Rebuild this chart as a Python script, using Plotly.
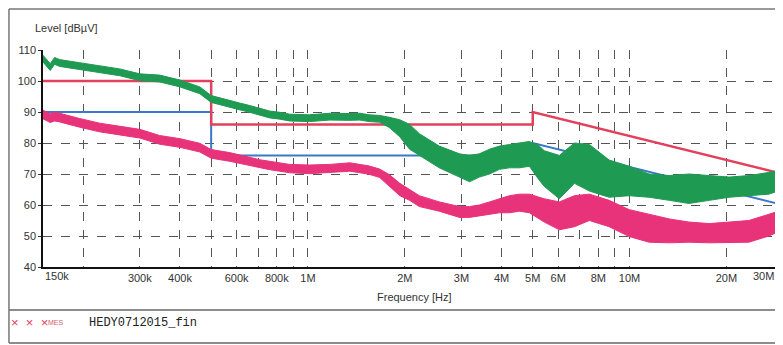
import plotly.graph_objects as go

# ---------------- data (MHz / dBµV) ----------------
freq_mhz = [0.15, 0.158, 0.163, 0.169, 0.195, 0.225, 0.26, 0.30, 0.346, 0.40, 0.461, 0.50,
            0.571, 0.613, 0.659, 0.708, 0.76, 0.817, 0.877, 1.01, 1.17, 1.35, 1.45, 1.55,
            1.67, 1.79, 1.93, 2.07, 2.22, 2.56, 2.96, 3.18, 3.41, 3.67, 3.94, 4.23, 4.55,
            4.88, 5.24, 5.43, 6.05, 6.74, 7.5, 8.64, 9.98, 11.5, 13.3, 15.3, 17.7, 20.4,
            23.5, 27.1, 30.0]

# peak detector trace (upper / lower edge of the noisy trace)
peak_hi = [108.3, 105.6, 107.6, 106.9, 105.9, 104.9, 103.9, 102.3, 101.9, 100.3, 98.1, 95.3,
           93.6, 92.9, 92.1, 91.3, 90.3, 89.9, 89.3, 89.1, 89.6, 89.5, 89.6, 89.1,
           88.9, 88.3, 87.5, 86, 83, 79, 76.5, 76, 76.5, 78, 79, 79.5, 80,
           80.5, 79, 77.5, 76, 80, 79.5, 74.5, 72.5, 70, 69.5, 70, 69.5, 69,
           69.5, 70.5, 71.5]
peak_lo = [106.1, 103.4, 105.4, 104.7, 103.7, 102.7, 101.7, 100.1, 99.7, 98.1, 95.9, 93.1,
           91.4, 90.7, 89.9, 89.1, 88.1, 87.7, 87.1, 86.9, 87.4, 87.3, 87.4, 86.9,
           86.7, 85.0, 82.0, 78, 76, 72, 69, 67.5, 69, 70, 71.5, 72, 72,
           72.5, 68, 66, 62, 67, 64.5, 62.5, 63, 62.5, 61.5, 60.5, 61.5, 62.5,
           63, 63.5, 65]

# average detector trace
avg_hi = [90.6, 89.4, 89.9, 89.6, 87.9, 86.4, 85.4, 84.4, 82.4, 81.4, 79.9, 77.9,
          76.9, 76.1, 75.4, 74.6, 74.1, 73.6, 73.1, 72.9, 73.1, 73.6, 73.1, 72.6,
          71.6, 69.8, 67, 65, 63, 61, 59.5, 59.5, 60, 61, 62, 63, 63.5,
          63.5, 62.5, 62, 61, 63, 63.5, 61.5, 58.5, 57, 55.5, 54.5, 54, 54.5,
          55, 57, 58.5]
avg_lo = [87.8, 86.6, 87.1, 86.8, 85.1, 83.6, 82.6, 81.6, 79.6, 78.6, 77.1, 75.1,
          74.1, 73.4, 72.6, 71.9, 71.4, 70.9, 70.4, 70.1, 70.4, 70.9, 70.4, 69.9,
          68.9, 66.2, 63, 61.5, 59.5, 58, 56, 56, 56.5, 57, 57.5, 57.5, 58,
          57.5, 55.5, 54.5, 52, 53, 55, 53, 49.8, 48, 47.8, 48, 47.8, 47.8,
          48, 50, 52]

limit_freq = [0.15, 0.5, 0.5, 5.0, 5.0, 30.0]
qp_limit = [100, 100, 86, 86, 90, 70]
av_limit = [90, 90, 76, 76, 80, 60]

tick_freq_mhz = [0.15, 0.2, 0.3, 0.4, 0.5, 0.6, 0.7, 0.8, 0.9, 1, 2, 3, 4, 5, 6, 7, 8, 9, 10, 20, 30]
tick_text = ["", "", "300k", "400k", "", "600k", "", "800k", "", "1M", "2M", "3M", "4M",
             "5M", "6M", "", "8M", "", "10M", "20M", ""]
y_ticks = [40, 50, 60, 70, 80, 90, 100, 110]

# ---------------- figure ----------------
def hz(v):
    return [f * 1e6 for f in v]

GREEN = "#1f9a52"
PINK = "#e8337a"
RED = "#e2405c"
BLUE = "#3a78c8"

fig = go.Figure()
fig.add_trace(go.Scatter(x=hz(limit_freq), y=av_limit, mode="lines",
                         line=dict(color=BLUE, width=2), hoverinfo="skip"))
fig.add_trace(go.Scatter(x=hz(limit_freq), y=qp_limit, mode="lines",
                         line=dict(color=RED, width=2.5), hoverinfo="skip"))

for hi, lo, col in [(peak_hi, peak_lo, GREEN), (avg_hi, avg_lo, PINK)]:
    fig.add_trace(go.Scatter(x=hz(freq_mhz), y=hi, mode="lines",
                             line=dict(color=col, width=1)))
    fig.add_trace(go.Scatter(x=hz(freq_mhz), y=lo, mode="lines", fill="tonexty",
                             fillcolor=col, line=dict(color=col, width=1)))

# the page body has an 8px margin, so the figure is drawn at (8, 8)
fig.update_layout(
    width=775, height=337,
    margin=dict(l=35, r=0, t=42, b=78),
    paper_bgcolor="white", plot_bgcolor="white",
    showlegend=False,
    font=dict(family="Liberation Sans, Arial, sans-serif", size=11, color="#333"),
)
fig.update_xaxes(
    type="log", range=[5.176091, 7.477121],
    tickvals=hz(tick_freq_mhz), ticktext=tick_text,
    showgrid=True, gridcolor="#555", griddash="dash", gridwidth=1,
    showline=True, linecolor="#111", linewidth=2,
    ticks="", tickfont=dict(size=11, color="#333"),
    zeroline=False,
)
fig.update_yaxes(
    range=[40, 110], tickvals=y_ticks,
    showgrid=True, gridcolor="#555", griddash="dash", gridwidth=1,
    showline=True, linecolor="#111", linewidth=1.5,
    ticks="outside", ticklen=3, tickcolor="#333",
    tickfont=dict(size=11, color="#333"),
    zeroline=False,
)

ann = [
    dict(text="Level [dBµV]", x=-0.013, y=1.1, xanchor="left", yanchor="middle"),
    dict(text="Frequency [Hz]", x=0.502, y=-0.138, xanchor="center", yanchor="middle"),
    dict(text="150k", x=0.0, y=-0.04, xanchor="left", yanchor="middle"),
    dict(text="30M", x=0.99, y=-0.04, xanchor="right", yanchor="middle"),
    dict(text="×  ×  ×", x=-0.046, y=-0.258, xanchor="left", yanchor="middle",
         font=dict(color="#e04060", size=13)),
    dict(text="MES", x=0.004, y=-0.258, xanchor="left", yanchor="middle",
         font=dict(color="#d06070", size=7)),
    dict(text="HEDY0712015_fin", x=0.059, y=-0.258, xanchor="left", yanchor="middle",
         font=dict(family="Liberation Mono, Courier New, monospace", size=12, color="#222")),
]
for a in ann:
    a.update(xref="paper", yref="paper", showarrow=False)
    if "font" not in a:
        a["font"] = dict(size=11, color="#333")
fig.update_layout(annotations=ann)

shapes = [
    dict(type="line", x0=-0.046, x1=1.0, y0=-0.198, y1=-0.198, line=dict(color="#666", width=1.5)),
    dict(type="line", x0=-0.046, x1=1.0, y0=-0.35, y1=-0.35, line=dict(color="#666", width=1.5)),
    dict(type="line", x0=-0.046, x1=1.0, y0=1.189, y1=1.189, line=dict(color="#777", width=1.5)),
    dict(type="line", x0=-0.046, x1=-0.046, y0=-0.35, y1=1.189, line=dict(color="#777", width=1.5)),
]
for s in shapes:
    s.update(xref="paper", yref="paper")
fig.update_layout(shapes=shapes)

fig.write_html("out.html")
